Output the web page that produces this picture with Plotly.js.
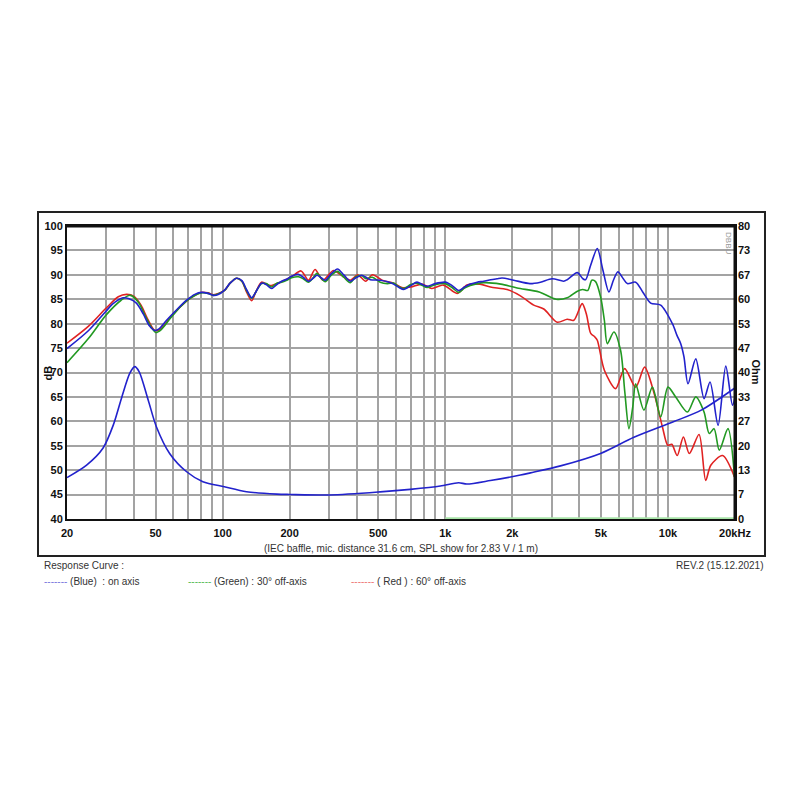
<!DOCTYPE html>
<html>
<head>
<meta charset="utf-8">
<script src="https://cdn.plot.ly/plotly-3.0.1.min.js"></script>
<style>html,body{margin:0;padding:0;background:#fff;}#chart{width:800px;height:800px;}</style>
</head>
<body>
<div id="chart"></div>
<script>
// ---- data ----
const blueFreq = [20,25,30,32,35.7,38,41,44,47,49.6,52,56,62,68.9,75,80.5,86,90.8,95,101.7,108,115.6,122,128,135,141,149.5,157,166,175,184,194,204,219,230,243,255,265,277,289,307,328,350,374,397,422,440,460,510,550,586,620,650,700,746,790,828,900,1000,1073,1148,1220,1296,1390,1487,1600,1708,1799,2029,2400,2675,3020,3400,3527,3913,4150,4265,4500,4815,5100,5430,5700,5957,6300,6569,7160,7700,8361,9272,10470,11000,11410,11800,12300,13330,14520,15450,16790,18180,19480,20000];
const blueDB   = [74.9,78.6,82.6,84.0,85.3,85.1,84.2,82.0,79.5,78.6,79.0,80.7,82.8,84.8,86.0,86.4,86.2,85.8,85.9,86.8,88.3,89.3,88.8,87.0,85.3,86.5,88.3,88.0,87.2,88.0,88.7,89.1,89.7,90.1,89.5,88.7,89.3,89.9,89.4,88.9,90.2,91.2,90.0,88.7,89.4,89.9,89.5,89.0,88.9,88.6,88.1,87.4,87.0,87.8,88.5,88.0,87.65,88.2,88.5,87.8,86.8,87.5,88.1,88.5,88.7,89.0,89.2,89.35,88.9,88.2,88.5,89.2,88.7,89.0,90.45,89.2,89.0,92.0,95.4,91.0,86.5,89.0,90.6,89.2,88.2,88.5,86.5,84.2,83.8,80.0,77.5,75.9,73.2,67.7,72.8,64.65,68.05,59.2,71.3,63.3,65.0];

const greenFreq = [20,25,30,35,38.5,42,45,50,53,58,65,72,80,86,91,102,108,115.6,122,128,135,141,149.5,157,166,175,184,194,204,219,230,243,255,265,277,289,307,328,350,374,397,422,440,470,510,550,586,620,650,700,746,790,828,900,1000,1073,1148,1220,1296,1487,1776,2102,2640,3150,3527,3900,4144,4363,4550,4730,4981,5180,5340,5716,6128,6400,6678,6950,7160,7800,8511,9272,10000,10830,12230,13330,14520,15320,16110,17000,18600,19900];
const greenDB   = [72.0,77.0,81.8,84.8,85.8,84.3,81.5,78.2,78.8,81.0,83.6,85.3,86.3,86.2,85.8,86.8,88.3,89.3,88.7,86.8,85.2,86.5,88.2,88.2,87.5,88.3,88.5,88.9,89.4,89.6,89.2,88.5,89.4,90.3,89.3,88.6,89.9,90.7,89.5,88.4,89.6,89.8,89.2,89.5,88.5,88.2,88.3,87.5,87.2,88.0,88.3,87.8,87.4,88.0,88.2,87.4,86.4,87.3,87.8,88.4,88.1,87.3,86.5,85.0,85.3,86.6,87.0,86.8,88.9,88.6,85.5,80.7,75.9,78.3,74.5,66.0,58.5,63.0,67.7,62.3,67.0,60.9,67.0,65.0,61.9,65.0,61.9,57.5,58.5,54.1,58.5,48.6];

const redFreq = [20,25,30,34,37,40,43,46,49.6,53,58,65,72,80,86,91,102,108,115.6,122,128,135,141,149.5,163,184,204,225,243,260,282,314,337,374,404,439,471,520,586,638,700,785,870,980,1130,1250,1430,1594,1896,2175,2496,2769,3180,3527,3777,4117,4300,4500,4690,4815,5180,5817,6390,7160,7854,8670,9450,9980,10400,11000,11730,12470,13790,14770,15570,17590,19900];
const redDB   = [76.0,79.5,83.2,85.5,86.0,85.6,83.8,81.0,78.6,79.0,81.2,83.6,85.3,86.4,86.3,85.9,86.8,88.3,89.3,88.7,86.5,84.7,86.5,88.5,87.8,88.6,89.6,90.8,88.9,91.1,88.9,90.9,90.1,88.9,90.0,88.7,90.0,88.9,88.3,87.4,87.5,88.1,87.2,87.9,86.2,87.9,88.1,87.5,87.0,85.7,83.8,83.0,80.3,80.9,80.7,84.1,82.0,78.0,77.3,76.6,70.45,66.7,70.8,67.0,71.1,65.7,58.8,55.1,55.3,53.0,56.8,53.4,57.3,47.9,51.0,53.0,48.6];

const impFreq = [20,24.5,29,32.3,35.3,38.3,40.3,42.2,46.3,50.4,57.8,68.9,81.5,101.7,128,175,200,304,510,696,950,1148,1250,1594,2175,2412,3292,4981,7031,10640,14180,19900];
const impOhm  = [11.3,14.7,19.3,25.7,33.4,39.8,41.6,40.2,32.5,25.2,17.9,12.9,10.2,8.8,7.45,6.8,6.7,6.55,7.4,8.1,9.0,9.9,9.55,10.5,12.0,12.6,14.5,17.9,22.3,26.6,29.8,35.7];

const baseFreq = [1000,20000];
const baseOhm  = [0.2,0.2];

const gridFreq = [20,30,40,50,60,70,80,90,100,200,300,400,500,600,700,800,900,1000,2000,3000,4000,5000,6000,7000,8000,9000,10000,20000];
const freqLabels = {20:"20",50:"50",100:"100",200:"200",500:"500",1000:"1k",2000:"2k",5000:"5k",10000:"10k",20000:"20kHz"};
const dbTicks = [40,45,50,55,60,65,70,75,80,85,90,95,100];
const ohmLabels = ["0","7","13","20","27","33","40","47","53","60","67","73","80"];

// ---- chart ----
const BLUE = "#2222cc", GREEN = "#229922", RED = "#e02222";
const lineStyle = (c) => ({color: c, width: 1.6, shape: "spline", smoothing: 0.8});
const traces = [
  {x: redFreq, y: redDB, mode: "lines", line: lineStyle(RED), hoverinfo: "skip"},
  {x: greenFreq, y: greenDB, mode: "lines", line: lineStyle(GREEN), hoverinfo: "skip"},
  {x: blueFreq, y: blueDB, mode: "lines", line: lineStyle(BLUE), hoverinfo: "skip"},
  {x: impFreq, y: impOhm, mode: "lines", yaxis: "y2", line: lineStyle(BLUE), hoverinfo: "skip"},
  {x: baseFreq, y: baseOhm, mode: "lines", yaxis: "y2", line: {color: "#a8e4a8", width: 2}, hoverinfo: "skip"}
];

const ohmTicks = ohmLabels.map((_, i) => i * 80 / 12);
const tickFont = {family: "Liberation Sans, Arial, sans-serif", size: 11, color: "#111", weight: "bold"};
const smallFont = {family: "Liberation Sans, Arial, sans-serif", size: 10, color: "#333"};
const ann = (x, y, text, extra) => Object.assign({xref: "paper", yref: "paper", x: x, y: y, text: text,
  showarrow: false, xanchor: "center", yanchor: "middle", font: smallFont}, extra || {});

const layout = {
  width: 800, height: 800,
  margin: {l: 67, r: 65, t: 226, b: 281},
  paper_bgcolor: "#fff", plot_bgcolor: "#fff",
  showlegend: false,
  xaxis: {
    type: "log", range: [Math.log10(20), Math.log10(20000)],
    tickmode: "array", tickvals: gridFreq,
    ticktext: gridFreq.map(f => freqLabels[f] || ""),
    showgrid: true, gridcolor: "#a3a3a3", gridwidth: 2,
    showline: true, linecolor: "#111", linewidth: 2, mirror: true,
    ticks: "", tickfont: tickFont, zeroline: false, ticklabelstandoff: 3
  },
  yaxis: {
    range: [40, 100], tickmode: "array", tickvals: dbTicks,
    showgrid: true, gridcolor: "#a3a3a3", gridwidth: 2,
    showline: true, linecolor: "#111", linewidth: 2, mirror: true,
    ticks: "", tickfont: tickFont, zeroline: false
  },
  yaxis2: {
    overlaying: "y", side: "right", range: [0, 80],
    tickmode: "array", tickvals: ohmTicks, ticktext: ohmLabels,
    showgrid: false, zeroline: false, showline: false,
    ticks: "", tickfont: tickFont, ticklabelstandoff: 2
  },
  shapes: [
    {type: "rect", xref: "paper", yref: "paper", x0: -0.0434, x1: 1.0449, y0: -0.1263, y1: 1.0478,
     line: {color: "#222", width: 2}, fillcolor: "rgba(0,0,0,0)", layer: "below"},
    {type: "line", xref: "paper", yref: "paper", x0: 1, x1: 1, y0: 0, y1: 1, line: {color: "#111", width: 3}},
    {type: "line", xref: "paper", yref: "paper", x0: 0, x1: 1, y0: 1, y1: 1, line: {color: "#111", width: 3}}
  ],
  annotations: [
    ann(-0.0285, 0.5, "dB", {textangle: -90, font: {family: "Liberation Sans, Arial, sans-serif", size: 11, color: "#111", weight: "bold"}}),
    ann(1.0329, 0.5, "Ohm", {textangle: 90, font: {family: "Liberation Sans, Arial, sans-serif", size: 11, color: "#111", weight: "bold"}}),
    ann(0.990, 0.985, "DBBU", {textangle: 90, yanchor: "top", font: {family: "Liberation Sans, Arial, sans-serif", size: 8, color: "#999"}}),
    ann(0.5, -0.0990, "(IEC baffle, mic. distance 31.6 cm, SPL show for 2.83 V / 1 m)"),
    ann(-0.0374, -0.1570, "Response Curve :", {xanchor: "left"}),
    ann(1.0449, -0.1604, "REV.2 (15.12.2021)", {xanchor: "right"}),
    ann(-0.0374, -0.2150, "<span style='color:#7777dd'>-------</span> (Blue)  : on axis", {xanchor: "left"}),
    ann(0.1781, -0.2150, "<span style='color:#55bb55'>-------</span> (Green) : 30° off-axis", {xanchor: "left"}),
    ann(0.4222, -0.2150, "<span style='color:#ee7777'>-------</span> ( Red ) : 60° off-axis", {xanchor: "left"})
  ]
};

Plotly.newPlot("chart", traces, layout, {staticPlot: true, displayModeBar: false});
</script>
</body>
</html>
